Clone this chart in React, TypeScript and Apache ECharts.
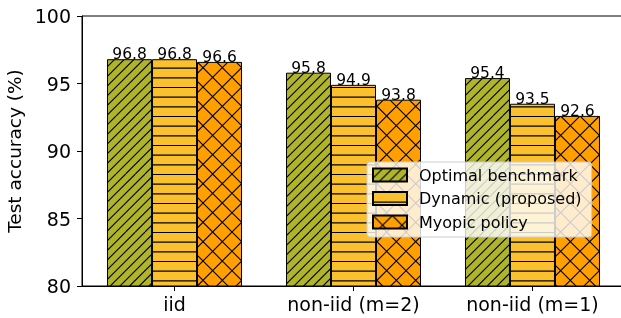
import React, { useEffect, useRef } from "react";
import * as echarts from "echarts";

const categories = ["iid", "non-iid (m=2)", "non-iid (m=1)"];
const optimal = [96.8, 95.8, 95.4];
const dynamic = [96.8, 94.9, 93.5];
const myopic = [96.6, 93.8, 92.6];
const seriesNames = ["Optimal benchmark", "Dynamic (proposed)", "Myopic policy"];
const yTicks = [80, 85, 90, 95, 100];

const FONT = "DejaVu Sans";
const TILE = 58;

function makeHatch(bg: string, kind: "diag" | "horiz" | "cross") {
  const c = document.createElement("canvas");
  c.width = TILE;
  c.height = TILE;
  const ctx = c.getContext("2d")!;
  ctx.fillStyle = bg;
  ctx.fillRect(0, 0, TILE, TILE);
  ctx.strokeStyle = "#000";
  ctx.lineWidth = 1.1;
  ctx.beginPath();
  if (kind === "horiz") {
    const a = TILE / 6;
    for (let k = 0; k < 6; k++) {
      const y = k * a + 0.5;
      ctx.moveTo(0, y);
      ctx.lineTo(TILE, y);
    }
  } else {
    const n = kind === "diag" ? 6 : 3;
    const a = TILE / n;
    for (let k = -n; k <= 2 * n; k++) {
      const cc = k * a;
      ctx.moveTo(cc, 0);
      ctx.lineTo(cc - TILE, TILE);
      if (kind === "cross") {
        ctx.moveTo(cc, 0);
        ctx.lineTo(cc + TILE, TILE);
      }
    }
  }
  ctx.stroke();
  return {
    image: c.toDataURL(),
    repeat: "repeat",
    imageWidth: TILE,
    imageHeight: TILE,
  } as any;
}

export default function App() {
  const ref = useRef<HTMLDivElement>(null);
  useEffect(() => {
    const chart = echarts.init(ref.current!, null, { renderer: "svg" });
    const colors = [
      makeHatch("#AFB42B", "diag"),
      makeHatch("#FBC02D", "horiz"),
      makeHatch("#FFA000", "cross"),
    ];
    const allData = [optimal, dynamic, myopic];
    const series = allData.map((arr, si) => ({
      name: seriesNames[si],
      type: "bar",
      barWidth: 45,
      barGap: "0%",
      data: arr.map((v, i) => [i, v]),
      itemStyle: { color: colors[si], borderColor: "#000", borderWidth: 1 },
      label: {
        show: true,
        position: "top",
        distance: -3,
        fontFamily: FONT,
        fontSize: 15.5,
        color: "#000",
        formatter: (p: any) => Number(p.value[1]).toFixed(1),
      },
    }));
    chart.setOption({
      animation: false,
      grid: {
        left: 82,
        right: -4,
        top: 16,
        bottom: 32,
        outerBoundsMode: "none",
        containLabel: false,
        show: true,
        borderColor: "#000",
        borderWidth: 1,
        backgroundColor: "transparent",
      },
      legend: {
        orient: "vertical",
        left: 367,
        top: 162,
        padding: [5, 10, 7, 5],
        itemWidth: 34,
        itemHeight: 13,
        itemGap: 7.5,
        icon: "rect",
        backgroundColor: "rgba(255,255,255,0.8)",
        borderColor: "#cccccc",
        borderWidth: 1,
        borderRadius: 3,
        textStyle: {
          fontFamily: FONT,
          fontSize: 16,
          color: "#000",
          lineHeight: 16,
          padding: [0, 0, 0, 7],
        },
        data: seriesNames,
      },
      xAxis: {
        type: "value",
        min: -0.517,
        max: 2.517,
        splitLine: { show: false },
        axisLine: { show: true, onZero: false, lineStyle: { color: "#000", width: 1 } },
        axisTick: {
          show: true,
          length: 5,
          lineStyle: { color: "#000", width: 1 },
          customValues: [0, 1, 2],
        },
        axisLabel: {
          customValues: [0, 1, 2],
          margin: 8,
          fontFamily: FONT,
          fontSize: 19,
          color: "#000",
          formatter: (v: number) => categories[Math.round(v)] ?? "",
        },
      },
      yAxis: {
        type: "value",
        min: yTicks[0],
        max: yTicks[yTicks.length - 1],
        interval: 5,
        name: "Test accuracy (%)",
        nameLocation: "middle",
        nameGap: 52,
        nameTextStyle: { fontFamily: FONT, fontSize: 18.5, color: "#000" },
        splitLine: { show: false },
        axisLine: { show: true, onZero: false, lineStyle: { color: "#000", width: 1 } },
        axisTick: { show: true, length: 5, lineStyle: { color: "#000", width: 1 } },
        axisLabel: { margin: 11, fontFamily: FONT, fontSize: 19, color: "#000" },
      },
      series,
    });
    return () => chart.dispose();
  }, []);
  return (
    <div
      ref={ref}
      style={{ position: "fixed", left: 0, top: 0, width: 621, height: 318 }}
    />
  );
}
